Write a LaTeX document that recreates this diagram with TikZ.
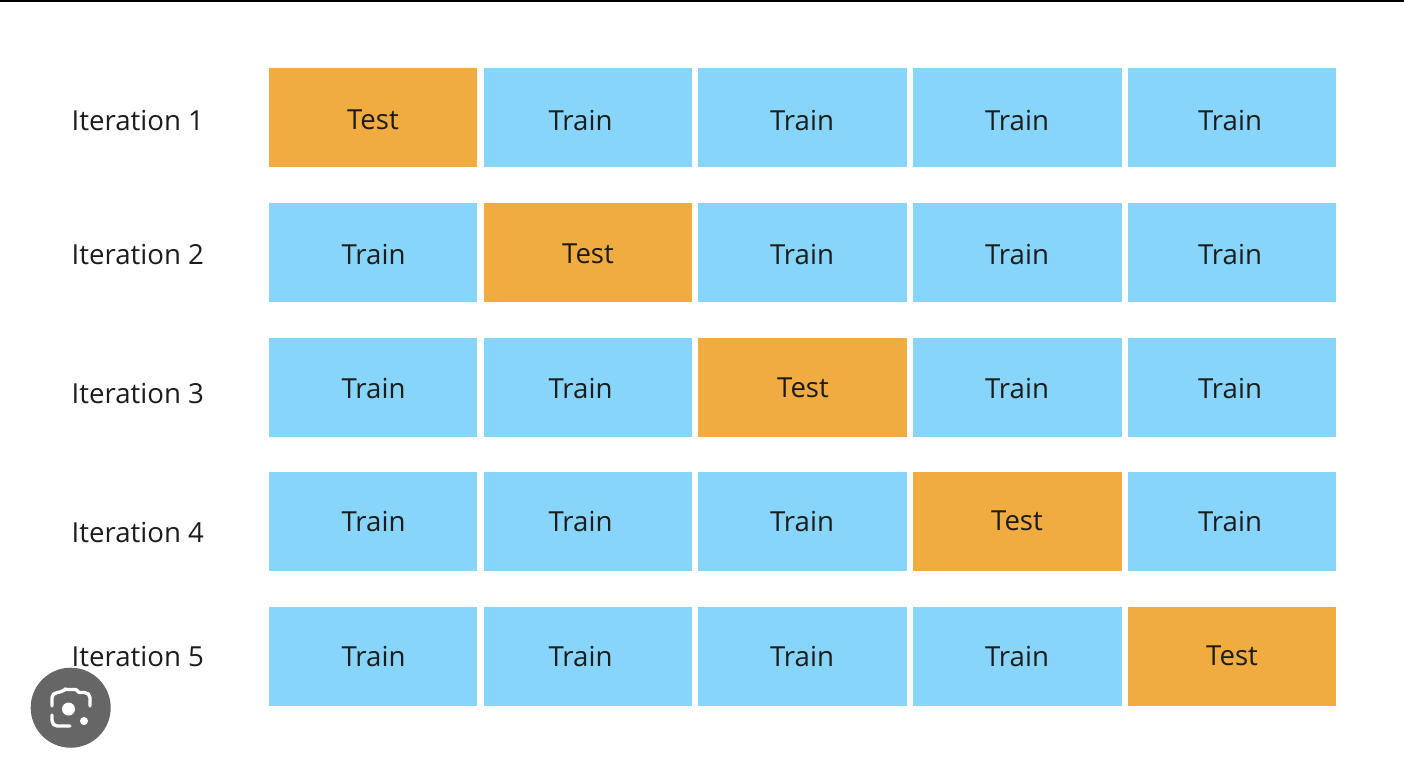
\documentclass[tikz,border=0pt]{standalone}
\usepackage{fontspec}
\setmainfont{Open Sans}
\usepackage{xcolor}
\definecolor{trainblue}{HTML}{87D5FA}
\definecolor{testorange}{HTML}{F0AC41}
\definecolor{labelink}{HTML}{1C1C1C}
\definecolor{lensgray}{HTML}{666666}
\tikzset{
	cell/.style = {minimum width = 2.085cm, minimum height = 0.99cm, inner sep = 0pt},
	word/.style = {text = labelink, font = \fontsize{7.85pt}{10pt}\selectfont, inner sep = 0pt},
	lensline/.style = {draw = white, line width = 0.95pt, line cap = round, line join = round}
}
\begin{document}
\begin{tikzpicture}[x = 0.01cm, y = -0.01cm]
		\useasboundingbox (0,0) rectangle (1404,756);
		\fill[black] (0,0) rectangle (1404,1.5);
		% one row per iteration
		\foreach \row/\cy/\ty/\ly in {1/117.5/120/120, 2/252.5/254/254, 3/387.5/388/393, 4/521.5/521/532, 5/656.5/656/656}{
			\node[word, anchor = west] (iter\row) at (71,\ly) {Iteration \row};
			\foreach \col/\cx/\trainx/\testx in {1/373/373.5/373, 2/588/580.5/588, 3/802.5/802/803, 4/1017.5/1017/1017, 5/1232/1230/1232}{
				\ifnum\col=\row
					\node[cell, fill = testorange] (box\row\col) at (\cx,\cy) {};
					\node[word] (text\row\col) at (\testx,\ty) {Test};
				\else
					\node[cell, fill = trainblue] (box\row\col) at (\cx,\cy) {};
					\node[word] (text\row\col) at (\trainx,\ty) {Train};
				\fi
			}
		}
		% lens button
		\fill[lensgray] (70.7,707.7) circle (0.4cm);
		\draw[lensline, rounded corners = 1.5pt] (52,706) -- (52,692.5) -- (62,692.5) -- (65,689.5);
		\draw[lensline] (65,689.5) -- (76,689.5) -- (79,692.5);
		\draw[lensline, rounded corners = 1.5pt] (79,692.5) -- (90,692.5) -- (90,706);
		\draw[lensline, rounded corners = 1.5pt] (52,715) -- (52,726) -- (70,726);
		\fill[white] (68.5,709) circle (0.065cm);
		\fill[white] (84,721) circle (0.04cm);
	\end{tikzpicture}
\end{document}
